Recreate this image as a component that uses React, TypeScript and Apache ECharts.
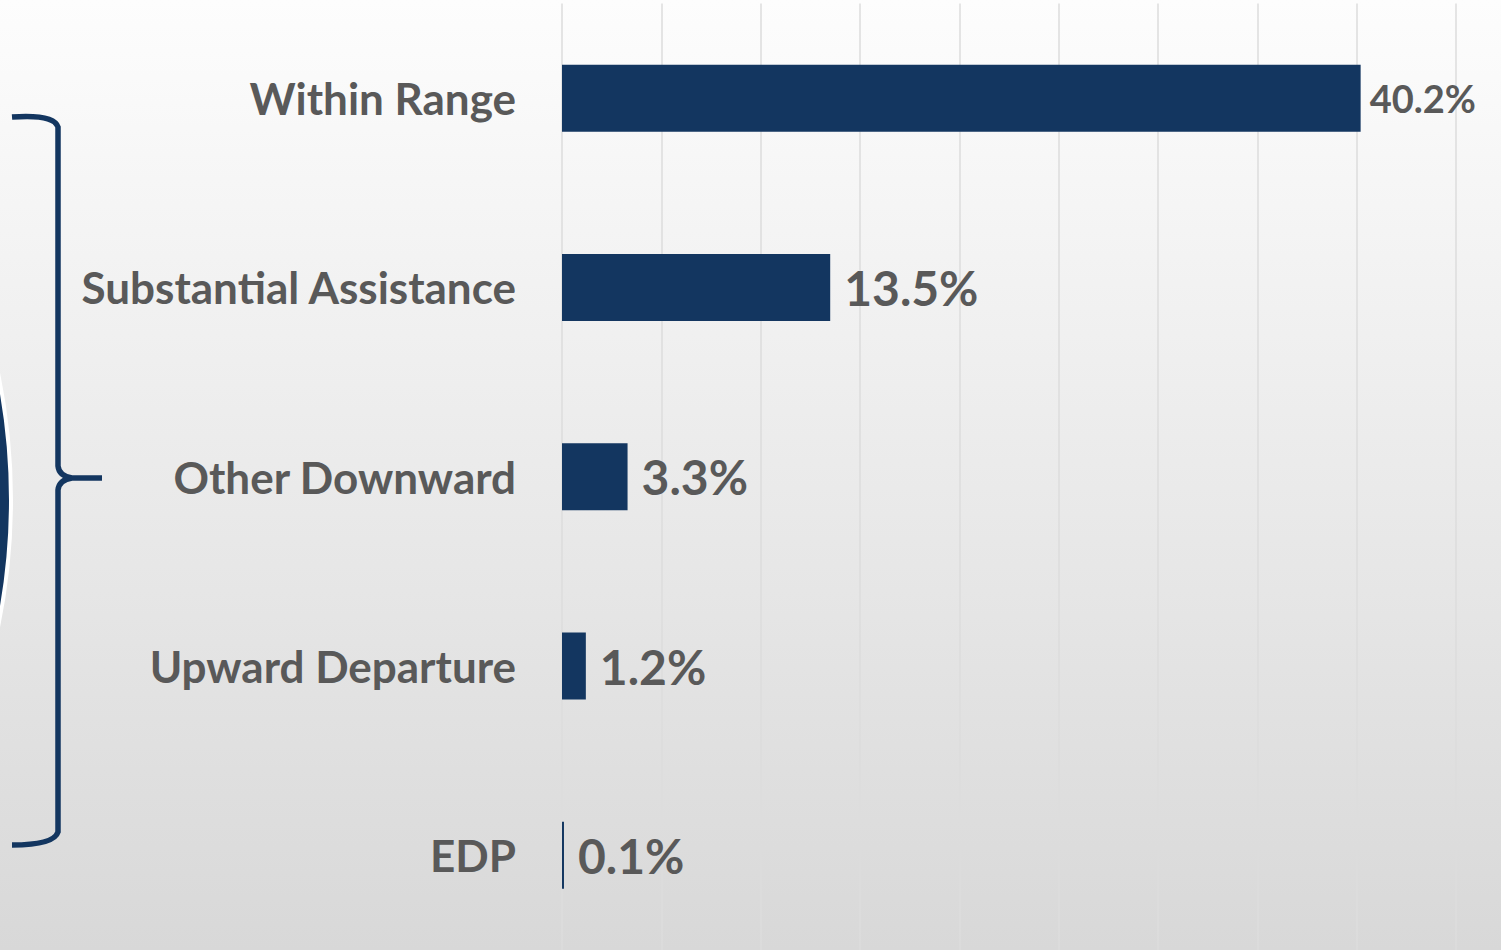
import React, { useEffect, useRef } from "react";
import * as echarts from "echarts";

const categories = ["Within Range", "Substantial Assistance", "Other Downward", "Upward Departure", "EDP"];
const values = [40.2, 13.5, 3.3, 1.2, 0.1];
const axisMax = 45;
const axisStep = 5;

const BRACE_D =
  "M12 117 Q54 114 58 127 L58 466 Q59 476 72 478 L102 478 M72 478 Q59 480 58 490 L58 832 Q54 845 12 845";

let registered = false;
function registerShapes() {
  if (registered) return;
  echarts.graphic.registerShape("brace", echarts.graphic.extendPath(BRACE_D, {}) as any);
  registered = true;
}

export default function App() {
  const ref = useRef<HTMLDivElement>(null);
  useEffect(() => {
    if (!ref.current) return;
    registerShapes();
    const chart = echarts.init(ref.current, undefined, { renderer: "svg" });
    const navy = "#133660";
    chart.setOption({
      animation: false,
      backgroundColor: new echarts.graphic.LinearGradient(0, 0, 0, 1, [
        { offset: 0, color: "#fdfdfd" },
        { offset: 1, color: "#d8d8d8" },
      ]),
      grid: { left: 562, right: 45, top: 3.5, height: 950, containLabel: false },
      xAxis: {
        type: "value",
        min: 0,
        max: axisMax,
        interval: axisStep,
        axisLabel: { show: false },
        axisLine: { show: false },
        axisTick: { show: false },
        splitLine: { show: true, lineStyle: { color: "#dcdcdc", width: 1.5 } },
      },
      yAxis: {
        type: "category",
        inverse: true,
        data: categories,
        axisLine: { show: false },
        axisTick: { show: false },
        axisLabel: {
          margin: 46,
          fontSize: 44,
          fontWeight: "bold",
          color: "#595959",
          fontFamily: "Lato",
        },
      },
      series: [
        {
          type: "bar",
          barWidth: 67,
          itemStyle: { color: navy },
          data: values.map((v, i) => ({
            value: v,
            label: i === 0 ? { fontSize: 38, distance: 9 } : { fontSize: 48, distance: 14 },
          })),
          label: {
            show: true,
            position: "right",
            formatter: (p: any) => p.value.toFixed(1) + "%",
            color: "#595959",
            fontWeight: "bold",
            fontFamily: "Lato",
          },
        },
      ],
      graphic: [
        {
          type: "circle",
          shape: { cx: -619, cy: 500, r: 630 },
          style: { fill: navy, stroke: "#ffffff", lineWidth: 4 },
          silent: true,
        },
        {
          type: "brace",
          x: 0,
          y: 0,
          style: { fill: "none", stroke: navy, lineWidth: 5.5 },
          silent: true,
        },
      ],
    });
    return () => chart.dispose();
  }, []);
  return (
    <div
      ref={ref}
      style={{ position: "absolute", left: 0, top: 0, width: 1501, height: 950 }}
    />
  );
}
